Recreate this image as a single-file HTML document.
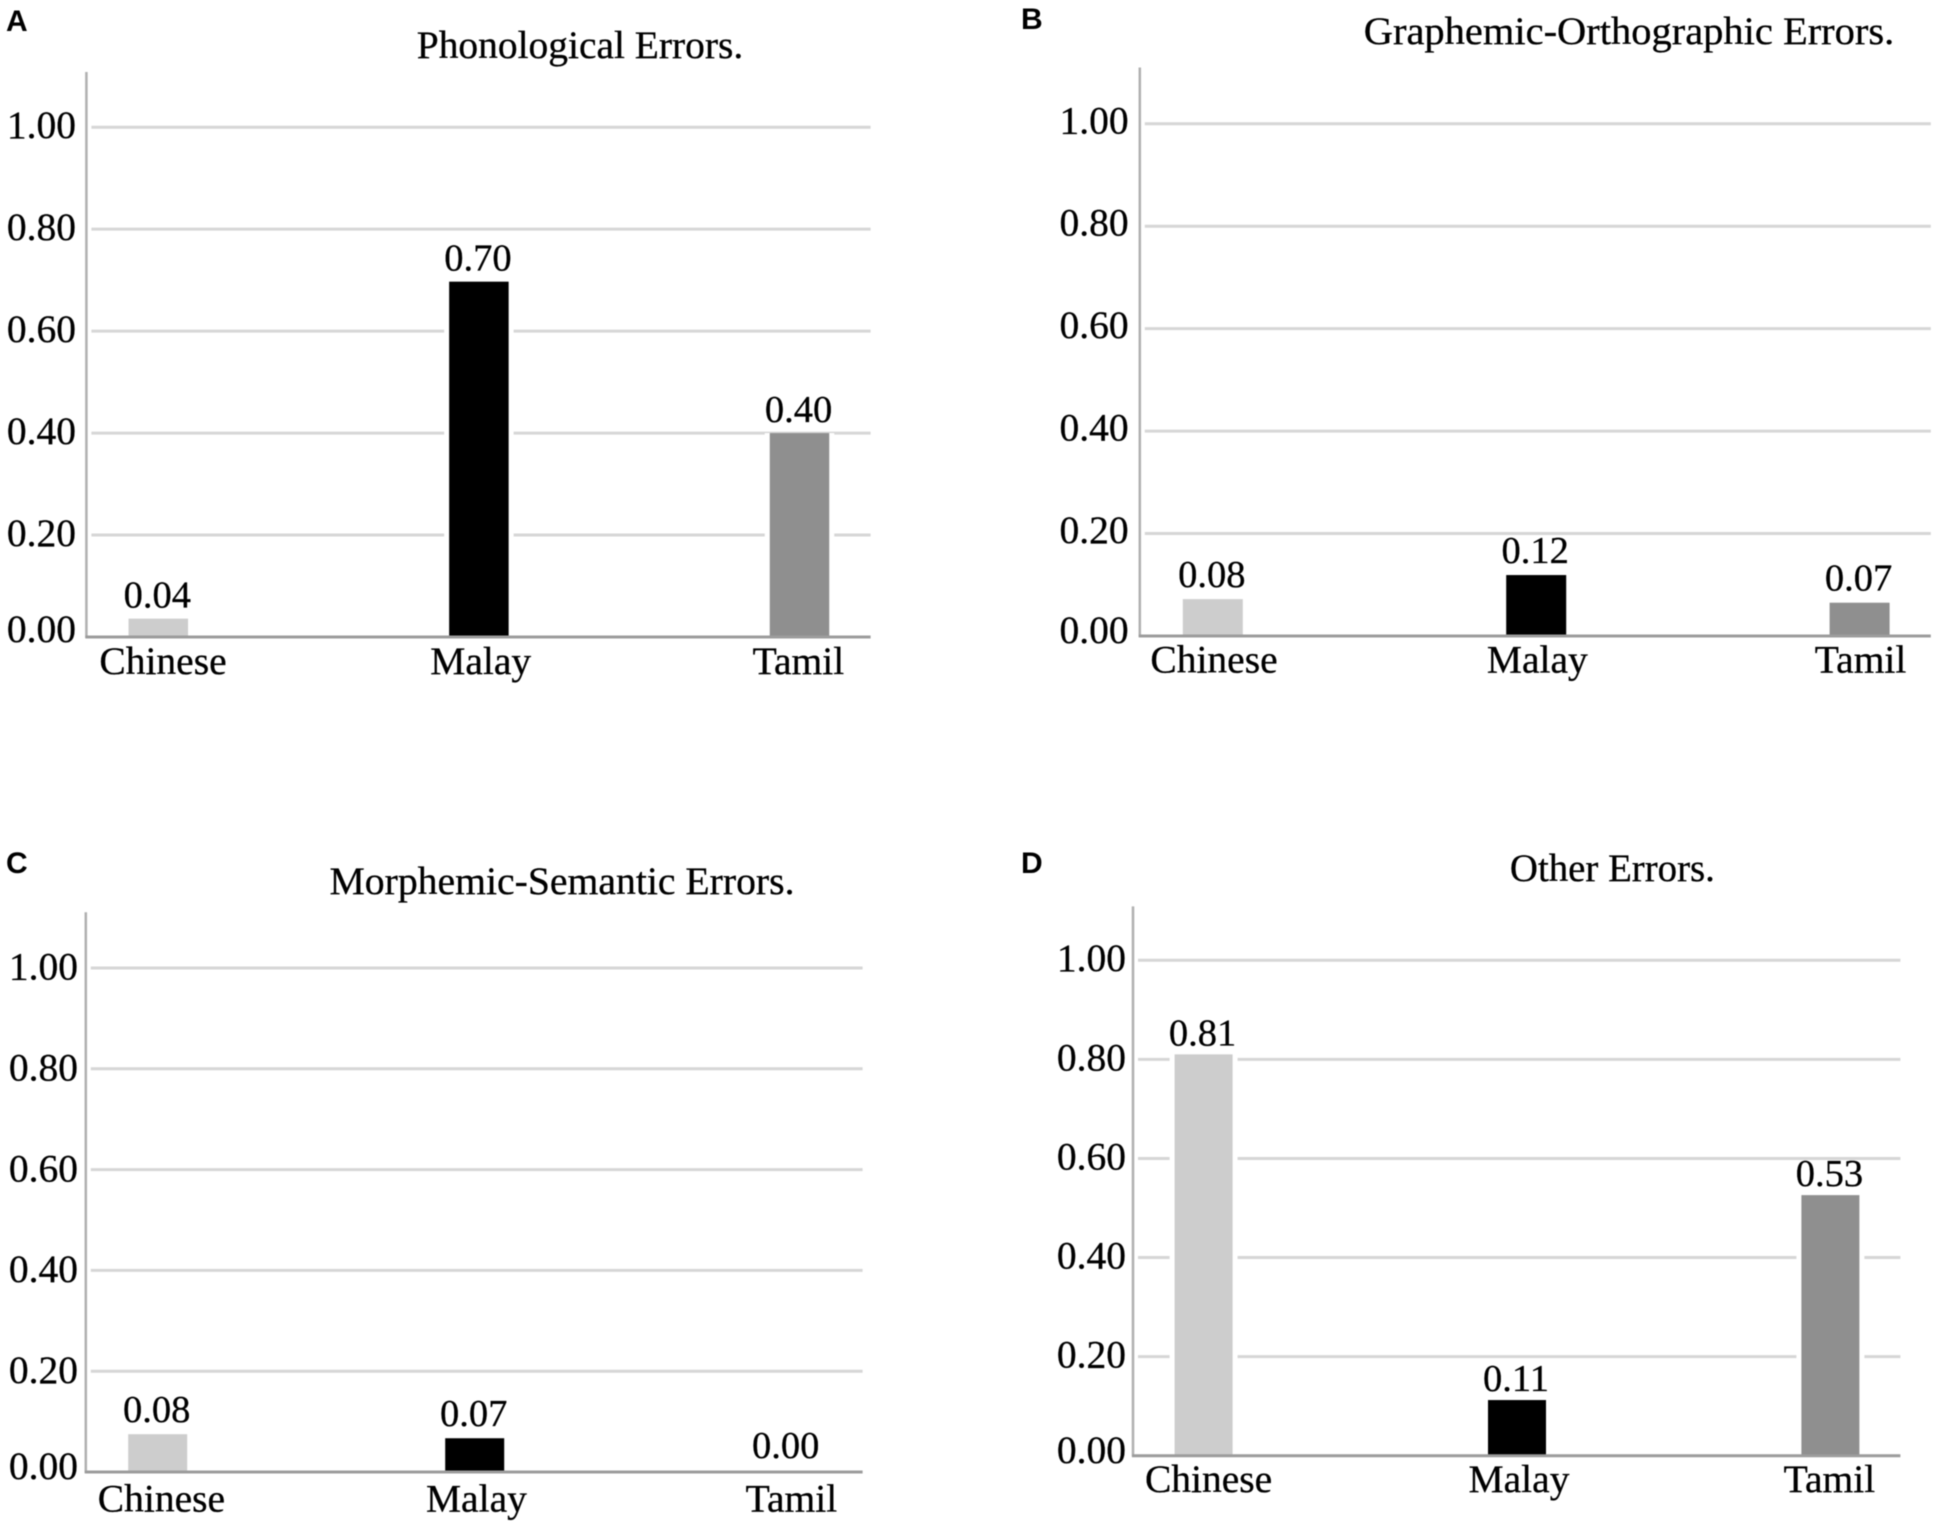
<!DOCTYPE html>
<html lang="en">
<head>
<meta charset="utf-8">
<title>Error types by language group</title>
<style>
html,body{margin:0;padding:0;background:#fff;width:1950px;height:1534px;overflow:hidden}
svg{display:block;filter:blur(0.65px)}
text{font-family:"Liberation Serif",serif;fill:#000;stroke:#000;stroke-width:0.3px}
.letter{font-family:"Liberation Sans",sans-serif;font-weight:700;font-size:30px;fill:#000;stroke:none}
</style>
</head>
<body>
<svg id="figure" xmlns="http://www.w3.org/2000/svg" width="1950" height="1534" viewBox="0 0 1950 1534">
  <rect x="0" y="0" width="1950" height="1534" fill="#fff"/>
  <text class="letter" x="6" y="31">A</text>
  <text class="letter" x="1021" y="29">B</text>
  <text class="letter" x="6" y="873">C</text>
  <text class="letter" x="1021" y="873">D</text>
</svg>
<script>
// Data
const categories = ['Chinese', 'Malay', 'Tamil'];
const tickValues = [0, 0.2, 0.4, 0.6, 0.8, 1];
const tickLabels = ['0.00', '0.20', '0.40', '0.60', '0.80', '1.00'];
const barColors = ['#cdcdcd', '#000000', '#8f8f8f'];

const phonologicalValues = [0.036, 0.697, 0.40];
const phonologicalPrinted = ['0.04', '0.70', '0.40'];
const graphemicValues = [0.072, 0.119, 0.065];
const graphemicPrinted = ['0.08', '0.12', '0.07'];
const morphemicValues = [0.075, 0.067, 0];
const morphemicPrinted = ['0.08', '0.07', '0.00'];
const otherValues = [0.81, 0.1125, 0.526];
const otherPrinted = ['0.81', '0.11', '0.53'];

const NS = 'http://www.w3.org/2000/svg';
const svg = document.getElementById('figure');

function add(parent, tag, attrs, txt) {
  const el = document.createElementNS(NS, tag);
  for (const k in attrs) el.setAttribute(k, attrs[k]);
  if (txt !== undefined) el.textContent = txt;
  parent.appendChild(el);
  return el;
}

function drawPanel(key, title, values, printed, L) {
  const yScale = v => L.y0 - (L.y0 - L.y1) * v;
  const xScale = i => L.c0 + i * L.step;
  const catX = i => L.catC0 + i * L.catStep;

  const g = add(svg, 'g', {});
  
  

  const t = add(g, 'text', {x: L.titleX, y: L.titleY, 'font-size': 39.5, 'text-anchor': 'middle', textLength: L.titleW, lengthAdjust: 'spacingAndGlyphs'}, title);
  
  

  tickValues.forEach((v, i) => {
    if (v > 0) {
      const gl = add(g, 'line', {x1: L.axisX + 5, x2: L.right, y1: yScale(v), y2: yScale(v), stroke: '#d6d6d6', 'stroke-width': 3});
      
      
    }
    const tl = add(g, 'text', {x: L.tickRight, y: yScale(v) + (v === 0 ? L.zeroDy : L.tickDy), 'font-size': 39.5, 'text-anchor': 'end'}, tickLabels[i]);
    
    
  });

  const ya = add(g, 'line', {x1: L.axisX, x2: L.axisX, y1: L.axisTop, y2: L.y0 + 1, stroke: '#b0b0b0', 'stroke-width': 2.5});
  
  

  categories.forEach((c, i) => {
    const v = values[i];
    const cx = xScale(i);
    const top = yScale(v);
    if (v > 0) {
      const halo = add(g, 'rect', {x: cx - L.barW / 2 - 5, y: top, width: L.barW + 10, height: L.y0 - top, fill: '#fff'});
      
      
    }
    const b = add(g, 'rect', {x: cx - L.barW / 2, y: top, width: L.barW, height: L.y0 - top, fill: barColors[i]});
    
    

    const vl = add(g, 'text', {x: cx - (v === 0 ? 6 : 1), y: top - L.valueGap - (v === 0 ? 2 : 0), 'font-size': 38.5, 'text-anchor': 'middle'}, printed[i]);
    
    

    const cl = add(g, 'text', {x: catX(i), y: L.catY, 'font-size': 39.5, 'text-anchor': 'middle'}, c);
    
    
  });

  const xa = add(g, 'line', {x1: L.axisX - 1, x2: L.right, y1: L.y0, y2: L.y0, stroke: '#9c9c9c', 'stroke-width': 3});
  
  
}

drawPanel('a', 'Phonological Errors.', phonologicalValues, phonologicalPrinted, {
  y0: 637, y1: 127.2, axisX: 86.4, axisTop: 72, right: 870.6, c0: 158.3, step: 320.6, barW: 59.5,
  catC0: 163, catStep: 317.7,
  tickRight: 76, tickDy: 11, zeroDy: 5, valueGap: 11, catY: 674,
  titleX: 580, titleY: 58, titleW: 326.5
});
drawPanel('b', 'Graphemic-Orthographic Errors.', graphemicValues, graphemicPrinted, {
  y0: 636, y1: 123.8, axisX: 1139.8, axisTop: 67.5, right: 1930.8, c0: 1212.8, step: 323.4, barW: 60,
  catC0: 1214, catStep: 323.3,
  tickRight: 1128.6, tickDy: 9.5, zeroDy: 7, valueGap: 12, catY: 672.7,
  titleX: 1629, titleY: 44, titleW: 530.5
});
drawPanel('c', 'Morphemic-Semantic Errors.', morphemicValues, morphemicPrinted, {
  y0: 1472, y1: 968, axisX: 85.8, axisTop: 912.3, right: 862.6, c0: 157.7, step: 317, barW: 59,
  catC0: 161.4, catStep: 315,
  tickRight: 78, tickDy: 11.7, zeroDy: 7, valueGap: 12, catY: 1511.6,
  titleX: 562, titleY: 894, titleW: 465
});
drawPanel('d', 'Other Errors.', otherValues, otherPrinted, {
  y0: 1455.8, y1: 960.2, axisX: 1133, axisTop: 906.4, right: 1900.4, c0: 1203.6, step: 313.4, barW: 58,
  catC0: 1208.6, catStep: 310.4,
  tickRight: 1126, tickDy: 11, zeroDy: 7, valueGap: 9, catY: 1492,
  titleX: 1612.4, titleY: 881, titleW: 205
});
</script>
</body>
</html>
